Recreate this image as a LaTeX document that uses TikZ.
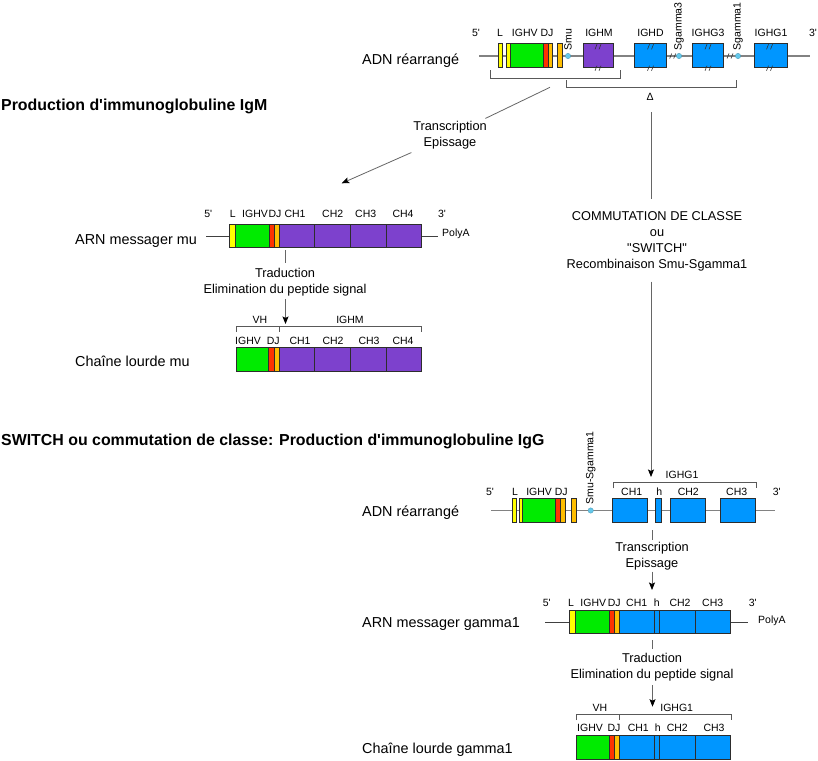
\documentclass[tikz,border=0pt]{standalone}
\usepackage{fontspec}
\newfontfamily\lsans{Liberation Sans}
\usetikzlibrary{arrows.meta,calc}
\definecolor{cL}{RGB}{255,255,0}
\definecolor{cV}{RGB}{0,235,0}
\definecolor{cD}{RGB}{255,51,0}
\definecolor{cJ}{RGB}{255,190,0}
\definecolor{cM}{RGB}{125,65,205}
\definecolor{cG}{RGB}{0,150,255}
\definecolor{cS}{RGB}{100,200,235}
\definecolor{cLine}{RGB}{130,130,130}
\definecolor{cEdge}{RGB}{45,45,45}
\newcommand\bx[5]{\filldraw[seg,fill=#5] (#1,#3) rectangle (#2,#4);}
\newcommand\dsl[2]{\draw[mk] (#1-3,#2+2.5) -- (#1-1,#2-2.5) (#1+1,#2+2.5) -- (#1+3,#2-2.5);}
\begin{document}
\begin{tikzpicture}[x=1pt,y=-1pt,
  seg/.style={draw=cEdge,line width=0.7pt},
  dna/.style={draw=cLine,line width=1.2pt},
  brk/.style={draw=black!65,line width=0.7pt},
  arr/.style={draw=black!60,line width=0.8pt},
  tip/.style={arr,-{Stealth[length=7.5pt,width=6pt,inset=1.5pt,black]}},
  mk/.style={draw=black!80,line width=0.6pt},
  sw/.style={fill=cS,draw=cS!75!black,line width=0.3pt},
  lab/.style={font=\lsans\fontsize{10.5}{12}\selectfont,anchor=base,inner sep=0pt},
  rot/.style={font=\lsans\fontsize{10.5}{12}\selectfont,rotate=90,anchor=west,inner sep=0pt},
  side/.style={font=\lsans\fontsize{14.4}{17}\selectfont,anchor=base west,inner sep=0pt},
  mid/.style={font=\lsans\fontsize{12.8}{15.8}\selectfont,align=center,inner sep=0pt},
  ttl/.style={font=\lsans\bfseries\fontsize{15.9}{19}\selectfont,anchor=base west,inner sep=0pt}]
\useasboundingbox (0,0) rectangle (818,760);
\fill[white] (0,0) rectangle (818,760);

%================ TOP DNA ================
\node[side] (adn1) at (362,64) {ADN réarrangé};
\coordinate (d1s) at (479,56); \coordinate (d1e) at (810,56);
\draw[dna] (d1s) -- (d1e);
\bx{498.3}{502.3}{43.3}{67.3}{cL}
\bx{506.7}{510}{43.3}{67.3}{cL}
\bx{510}{543.3}{43.3}{67.3}{cV}
\bx{543.3}{548}{43.3}{67.3}{cD}
\bx{548}{552.3}{43.3}{67.3}{cJ}
\bx{557.3}{562}{43.3}{67.3}{cJ}
\filldraw[sw] (568,56) circle (2.7pt);
\bx{583}{613.3}{43.3}{67.3}{cM}
\bx{634}{666}{43.3}{67.3}{cG}
\filldraw[sw] (679,56) circle (2.7pt);
\bx{692}{723}{43.3}{67.3}{cG}
\filldraw[sw] (738,56) circle (2.7pt);
\bx{754}{787.3}{43.3}{67.3}{cG}
\dsl{598}{46.8}\dsl{598}{68.2}
\dsl{650.5}{46.8}\dsl{650.5}{68.2}
\dsl{708}{46.8}\dsl{708}{68.2}
\dsl{769.5}{46.8}\dsl{769.5}{68.2}
\dsl{672.7}{56}\dsl{730}{56}
\node[lab] (t5a) at (476,36.8) {5'};
\node[lab] (tLa) at (500,36.8) {L};
\node[lab] (tVa) at (532.7,36.8) {IGHV DJ};
\node[lab] (tMa) at (599,36.8) {IGHM};
\node[lab] (tDa) at (650.5,36.8) {IGHD};
\node[lab] (tG3a) at (708,36.8) {IGHG3};
\node[lab] (tG1a) at (771,36.8) {IGHG1};
\node[lab] (t3a) at (813,36.8) {3'};
\node[rot] (smu) at (568,50.5) {Smu};
\node[rot] (sg3) at (679,50.5) {Sgamma3};
\node[rot] (sg1) at (738,50.5) {Sgamma1};
\draw[brk] (490,70) -- (490,78) -- (620,78) -- (620,70);
\draw[brk] (566,80) -- (566,87) -- (736,87) -- (736,80);
\node[lab] (delta) at (650,100.8) {Δ};

%================ TITLE 1 ================
\node[ttl] (title1) at (1,110.7) {Production d'immunoglobuline IgM};

% transcription arrow to mRNA mu
\coordinate (tr1s) at (550,87.3);
\coordinate (tr1t) at (341.7,183.3);
\node[mid,fill=white,inner sep=3pt] (tr1) at (450,135.5) {Transcription\\Epissage};
\draw[arr] (tr1s) -- (tr1);
\draw[tip] (tr1) -- (tr1t);

% switch arrow
\coordinate (swa) at (651,112);
\coordinate (swb) at (651,199.3);
\coordinate (swc) at (651,281.7);
\coordinate (swd) at (651,477);
\node[mid] (comm) at (657,241.5) {COMMUTATION DE CLASSE\\ou\\"SWITCH"\\Recombinaison Smu-Sgamma1};
\draw[arr] (swa) -- (swb);
\draw[tip] (swc) -- (swd);

%================ mRNA mu ================
\node[side] (arnmu) at (75,244.2) {ARN messager mu};
\coordinate (m1s) at (206,236); \coordinate (m1a) at (229,236);
\coordinate (m1b) at (421.7,236); \coordinate (m1e) at (438.3,236);
\draw[dna,line width=1pt,draw=black!75] (m1s) -- (m1a);
\draw[dna,line width=1pt,draw=black!75] (m1b) -- (m1e);
\bx{229}{235.7}{224.3}{247.7}{cL}
\bx{235.7}{269}{224.3}{247.7}{cV}
\bx{269}{274.3}{224.3}{247.7}{cD}
\bx{274.3}{279.3}{224.3}{247.7}{cJ}
\bx{279.3}{314.3}{224.3}{247.7}{cM}
\bx{314.3}{350.7}{224.3}{247.7}{cM}
\bx{350.7}{386.7}{224.3}{247.7}{cM}
\bx{386.7}{421.7}{224.3}{247.7}{cM}
\node[lab,anchor=base west] (pa1) at (442,236) {PolyA};
\node[lab] (m5) at (208.3,217.8) {5'};
\node[lab] (mL) at (232.7,217.8) {L};
\node[lab] (mV) at (255,217.8) {IGHV};
\node[lab] (mDJ) at (275,217.8) {DJ};
\node[lab] (mC1) at (295,217.8) {CH1};
\node[lab] (mC2) at (332.7,217.8) {CH2};
\node[lab] (mC3) at (365.7,217.8) {CH3};
\node[lab] (mC4) at (403,217.8) {CH4};
\node[lab] (m3) at (442,217.8) {3'};

% traduction mu
\coordinate (tdma) at (285.5,250); \coordinate (tdmb) at (285.5,263);
\coordinate (tdmc) at (285.5,299); \coordinate (tdmd) at (285.5,324);
\node[mid] (tdm) at (285,282.5) {Traduction\\Elimination du peptide signal};
\draw[arr] (tdma) -- (tdmb);
\draw[tip] (tdmc) -- (tdmd);

%================ chain mu ================
\node[side] (chmu) at (75,366.8) {Chaîne lourde mu};
\node[lab] (vh1) at (260,323.8) {VH};
\node[lab] (ighm2) at (350,323.8) {IGHM};
\draw[brk] (236,331.7) -- (236,326.7) -- (421.7,326.7) -- (421.7,331.7);
\draw[brk] (279.3,326.7) -- (279.3,331.7);
\node[lab] (cV1) at (248,344.5) {IGHV};
\node[lab] (cD1) at (273.3,344.5) {DJ};
\node[lab] (cC11) at (300,344.5) {CH1};
\node[lab] (cC21) at (333,344.5) {CH2};
\node[lab] (cC31) at (369,344.5) {CH3};
\node[lab] (cC41) at (403,344.5) {CH4};
\bx{236}{268.7}{347.7}{371}{cV}
\bx{268.7}{274}{347.7}{371}{cD}
\bx{274}{279.3}{347.7}{371}{cJ}
\bx{279.3}{314.3}{347.7}{371}{cM}
\bx{314.3}{350.3}{347.7}{371}{cM}
\bx{350.3}{386}{347.7}{371}{cM}
\bx{386}{421.7}{347.7}{371}{cM}

%================ TITLE 2 ================
\node[ttl] (title2) at (1,445.7) {SWITCH ou commutation de classe: Production d'immunoglobuline IgG};

%================ BOTTOM DNA ================
\node[side] (adn2) at (362,516.8) {ADN réarrangé};
\coordinate (d2s) at (491,510.5); \coordinate (d2e) at (775,510.5);
\draw[dna] (d2s) -- (d2e);
\bx{512.5}{516}{498.3}{522.3}{cL}
\bx{519.3}{522}{498.3}{522.3}{cL}
\bx{522}{555}{498.3}{522.3}{cV}
\bx{555}{560}{498.3}{522.3}{cD}
\bx{560}{565}{498.3}{522.3}{cJ}
\bx{571}{576.7}{498.3}{522.3}{cJ}
\filldraw[sw] (590.7,510.5) circle (2.7pt);
\bx{612.5}{647.7}{498.3}{522.3}{cG}
\bx{655.7}{661}{498.3}{522.3}{cG}
\bx{670}{705.7}{498.3}{522.3}{cG}
\bx{720}{755.7}{498.3}{522.3}{cG}
\node[lab] (b5) at (490,495.5) {5'};
\node[lab] (bL) at (515,495.5) {L};
\node[lab] (bV) at (547,495.5) {IGHV DJ};
\node[lab] (bC1) at (631.7,495.5) {CH1};
\node[lab] (bh) at (659.3,495.5) {h};
\node[lab] (bC2) at (688.3,495.5) {CH2};
\node[lab] (bC3) at (736.7,495.5) {CH3};
\node[lab] (b3) at (776.7,495.5) {3'};
\node[rot] (smusg) at (590.7,504.5) {Smu-Sgamma1};
\draw[brk] (613.3,488.3) -- (613.3,482.7) -- (756,482.7) -- (756,488.3);
\node[lab] (bG1) at (682,478.8) {IGHG1};

% transcription 2
\coordinate (tr2a) at (652,530); \coordinate (tr2b) at (652,540);
\coordinate (tr2c) at (652,571.7); \coordinate (tr2d) at (652,590);
\node[mid] (tr2) at (652,555.8) {Transcription\\Epissage};
\draw[arr] (tr2a) -- (tr2b);
\draw[tip] (tr2c) -- (tr2d);

%================ mRNA gamma1 ================
\node[side] (arng) at (362,627.5) {ARN messager gamma1};
\coordinate (m2s) at (545,622.3); \coordinate (m2a) at (569.3,622.3);
\coordinate (m2b) at (730.7,622.3); \coordinate (m2e) at (748.3,622.3);
\draw[dna,line width=1pt,draw=black!75] (m2s) -- (m2a);
\draw[dna,line width=1pt,draw=black!75] (m2b) -- (m2e);
\bx{569.3}{575.7}{610}{633.3}{cL}
\bx{575.7}{609}{610}{633.3}{cV}
\bx{609}{614}{610}{633.3}{cD}
\bx{614}{619.3}{610}{633.3}{cJ}
\bx{619.3}{654.3}{610}{633.3}{cG}
\bx{654.3}{659.3}{610}{633.3}{cG}
\bx{659.3}{695.7}{610}{633.3}{cG}
\bx{695.7}{730.7}{610}{633.3}{cG}
\node[lab,anchor=base west] (pa2) at (758,623.5) {PolyA};
\node[lab] (g5) at (546.7,606) {5'};
\node[lab] (gL) at (571,606) {L};
\node[lab] (gV) at (593.3,606) {IGHV};
\node[lab] (gDJ) at (614.3,606) {DJ};
\node[lab] (gC1) at (636.7,606) {CH1};
\node[lab] (gh) at (656.7,606) {h};
\node[lab] (gC2) at (680,606) {CH2};
\node[lab] (gC3) at (712.7,606) {CH3};
\node[lab] (g3) at (752.7,606) {3'};

% traduction gamma
\coordinate (tdga) at (652.3,640); \coordinate (tdgb) at (652.3,649.3);
\coordinate (tdgc) at (652.5,685); \coordinate (tdgd) at (652.5,706.7);
\node[mid] (tdg) at (652,667) {Traduction\\Elimination du peptide signal};
\draw[arr] (tdga) -- (tdgb);
\draw[tip] (tdgc) -- (tdgd);

%================ chain gamma1 ================
\node[side] (chg) at (362,753.5) {Chaîne lourde gamma1};
\node[lab] (vh2) at (600,711) {VH};
\node[lab] (ighg2) at (676.7,711) {IGHG1};
\draw[brk] (576,720) -- (576,714.3) -- (731,714.3) -- (731,720);
\draw[brk] (619.3,714.3) -- (619.3,720);
\node[lab] (kV) at (590,731.5) {IGHV};
\node[lab] (kD) at (614,731.5) {DJ};
\node[lab] (kC1) at (638.3,731.5) {CH1};
\node[lab] (kh) at (657.7,731.5) {h};
\node[lab] (kC2) at (677.3,731.5) {CH2};
\node[lab] (kC3) at (714,731.5) {CH3};
\bx{576}{609.3}{735.7}{759.3}{cV}
\bx{609.3}{614.7}{735.7}{759.3}{cD}
\bx{614.7}{619.3}{735.7}{759.3}{cJ}
\bx{619.3}{654.7}{735.7}{759.3}{cG}
\bx{654.7}{659.3}{735.7}{759.3}{cG}
\bx{659.3}{695.3}{735.7}{759.3}{cG}
\bx{695.3}{730.7}{735.7}{759.3}{cG}
\end{tikzpicture}
\end{document}
